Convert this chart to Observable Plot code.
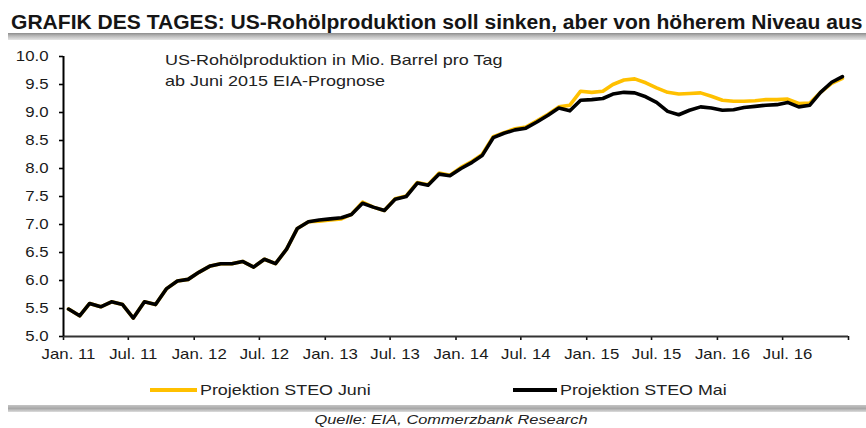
<!DOCTYPE html>
<html>
<head>
<meta charset="utf-8">
<script src="https://cdn.jsdelivr.net/npm/d3@7"></script>
<script src="https://cdn.jsdelivr.net/npm/@observablehq/plot@0.6"></script>
<style>
  html, body { margin: 0; padding: 0; background: #fff; }
  #page { position: relative; width: 866px; height: 428px; overflow: hidden; font-family: "Liberation Sans", Arial, sans-serif; color: #222; }
  .t { position: absolute; white-space: nowrap; line-height: 1; transform-origin: 0 0; }
  .bar { position: absolute; }
  #chart { position: absolute; left: 0; top: 40px; }
  .lg { position: absolute; height: 4px; }
</style>
</head>
<body>
<div id="page"></div>
<script>
// ---- data ----
const startYear = 2011;
const steoMai = [
  5.49, 5.37, 5.59, 5.53, 5.62, 5.57, 5.33, 5.62, 5.57, 5.85, 5.99, 6.02,
  6.15, 6.26, 6.30, 6.30, 6.34, 6.24, 6.38, 6.30, 6.56, 6.93, 7.05, 7.08,
  7.10, 7.12, 7.18, 7.38, 7.31, 7.25, 7.45, 7.50, 7.74, 7.70, 7.90, 7.87,
  8.00, 8.11, 8.23, 8.55, 8.63, 8.69, 8.72, 8.83, 8.95, 9.08, 9.03, 9.22,
  9.23, 9.25, 9.33, 9.36, 9.35, 9.28, 9.18, 9.02, 8.96, 9.04, 9.10, 9.08,
  9.04, 9.05, 9.09, 9.11, 9.13, 9.14, 9.18, 9.10, 9.13, 9.36, 9.54, 9.64
];
const steoJuni = [
  5.49, 5.37, 5.59, 5.53, 5.62, 5.57, 5.33, 5.62, 5.57, 5.85, 5.99, 6.02,
  6.15, 6.26, 6.30, 6.30, 6.34, 6.24, 6.38, 6.30, 6.56, 6.93, 7.05, 7.06,
  7.08, 7.10, 7.18, 7.40, 7.31, 7.25, 7.46, 7.51, 7.75, 7.71, 7.92, 7.88,
  8.02, 8.13, 8.25, 8.57, 8.64, 8.71, 8.74, 8.85, 8.97, 9.10, 9.13, 9.38,
  9.36, 9.38, 9.50, 9.58, 9.60, 9.53, 9.44, 9.36, 9.33, 9.34, 9.35, 9.29,
  9.22, 9.20, 9.20, 9.21, 9.23, 9.23, 9.24, 9.16, 9.17, 9.36, 9.52, 9.61
];
const tickLabels = ["Jan. 11","Jul. 11","Jan. 12","Jul. 12","Jan. 13","Jul. 13",
                    "Jan. 14","Jul. 14","Jan. 15","Jul. 15","Jan. 16","Jul. 16"];
const yTicks = [5.0, 5.5, 6.0, 6.5, 7.0, 7.5, 8.0, 8.5, 9.0, 9.5, 10.0];
const seriesNames = ["Projektion STEO Juni", "Projektion STEO Mai"];
const seriesColors = ["#FFC000", "#000000"];
const titleText = "GRAFIK DES TAGES: US-Rohölproduktion soll sinken, aber von höherem Niveau aus";
const subtitleLines = ["US-Rohölproduktion in Mio. Barrel pro Tag", "ab Juni 2015 EIA-Prognose"];
const sourceText = "Quelle: EIA, Commerzbank Research";

// ---- derived tables ----
const data = steoMai.map((v, i) => ({
  date: new Date(Date.UTC(startYear, i, 15)),
  mai: v,
  juni: steoJuni[i]
}));
const tickDates = d3.range(13).map(k => new Date(Date.UTC(startYear, k * 6, 1)));
const labelDates = tickDates.slice(0, tickLabels.length);
const xDomain = [tickDates[0], tickDates[tickDates.length - 1]];

const page = document.getElementById("page");
function addText(txt, o) {
  const s = document.createElement("span");
  s.className = "t";
  s.textContent = txt;
  s.style.fontSize = o.size + "px";
  if (o.weight) s.style.fontWeight = o.weight;
  if (o.italic) s.style.fontStyle = "italic";
  if (o.color) s.style.color = o.color;
  s.style.top = (o.baseline - 0.8465 * o.size) + "px";
  s.style.left = o.x + "px";
  const sc = o.scale || 1;
  s.style.transform = o.center ? `scaleX(${sc}) translateX(-50%)` : `scaleX(${sc})`;
  page.appendChild(s);
  return s;
}
function addBar(top, h, left, w, bg) {
  const b = document.createElement("div");
  b.className = "bar";
  Object.assign(b.style, {top: top + "px", height: h + "px", left: left + "px", width: w + "px", background: bg});
  page.appendChild(b);
}

// title + bars
addText(titleText, {x: 11, baseline: 30, size: 19.5, weight: "bold", scale: 1.08, color: "#151515"});
addBar(33, 7, 8, 858, "linear-gradient(#8c8c8c, #b8b8b8 40%, #e6e6e6)");
addBar(405, 7, 8, 858, "linear-gradient(#c4c4c4, #a8a8a8 50%, #dcdcdc)");

// chart
const chart = Plot.plot({
  width: 866,
  height: 330,
  marginTop: 16,
  marginBottom: 34,
  marginLeft: 63,
  marginRight: 18,
  style: {fontFamily: '"Liberation Sans", Arial, sans-serif', fontSize: "14px", color: "#1a1a1a", background: "transparent", overflow: "visible"},
  x: {type: "utc", domain: xDomain},
  y: {domain: [5, 10]},
  marks: [
    Plot.axisY({ticks: yTicks, tickFormat: d => d.toFixed(1), tickSize: 4, tickPadding: 11, stroke: "#000", strokeWidth: 1.6, label: null}),
    Plot.axisX({ticks: tickDates, tickFormat: () => "", tickSize: 4, tickPadding: 0, stroke: "#111", strokeWidth: 1.6, label: null}),
    Plot.text(labelDates, {x: d => d, text: (d, i) => tickLabels[i], frameAnchor: "bottom", lineAnchor: "top", dy: 13, dx: 5, fill: "#1a1a1a"}),
    Plot.ruleY([5], {stroke: "#333", strokeWidth: 2}),
    Plot.ruleX([xDomain[0]], {stroke: "#000", strokeWidth: 2}),
    Plot.lineY(data, {x: "date", y: "juni", stroke: seriesColors[0], strokeWidth: 3.6}),
    Plot.lineY(data, {x: "date", y: "mai", stroke: seriesColors[1], strokeWidth: 3.6})
  ]
});
const holder = document.createElement("div");
holder.id = "chart";
holder.appendChild(chart);
page.appendChild(holder);
// horizontally widen tick labels like the original artwork
chart.querySelectorAll("text").forEach(el => {
  const tr = el.getAttribute("transform");
  if (tr && tr.includes("translate")) el.setAttribute("transform", tr + " scale(1.2,1)");
});

// subtitle inside plot
addText(subtitleLines[0], {x: 165, baseline: 65.7, size: 14.5, scale: 1.24});
addText(subtitleLines[1], {x: 165, baseline: 86.7, size: 14.5, scale: 1.24});

// legend
function legendItem(x0, x1, color, label) {
  const l = document.createElement("div");
  l.className = "lg";
  Object.assign(l.style, {left: x0 + "px", width: (x1 - x0) + "px", top: "388px", background: color});
  page.appendChild(l);
  addText(label, {x: x1 + 3, baseline: 395, size: 15, scale: 1.19});
}
legendItem(150, 197, seriesColors[0], seriesNames[0]);
legendItem(513, 557, seriesColors[1], seriesNames[1]);

// source
addText(sourceText, {x: 451, baseline: 424, size: 13, italic: true, scale: 1.26, center: true});
</script>
</body>
</html>
